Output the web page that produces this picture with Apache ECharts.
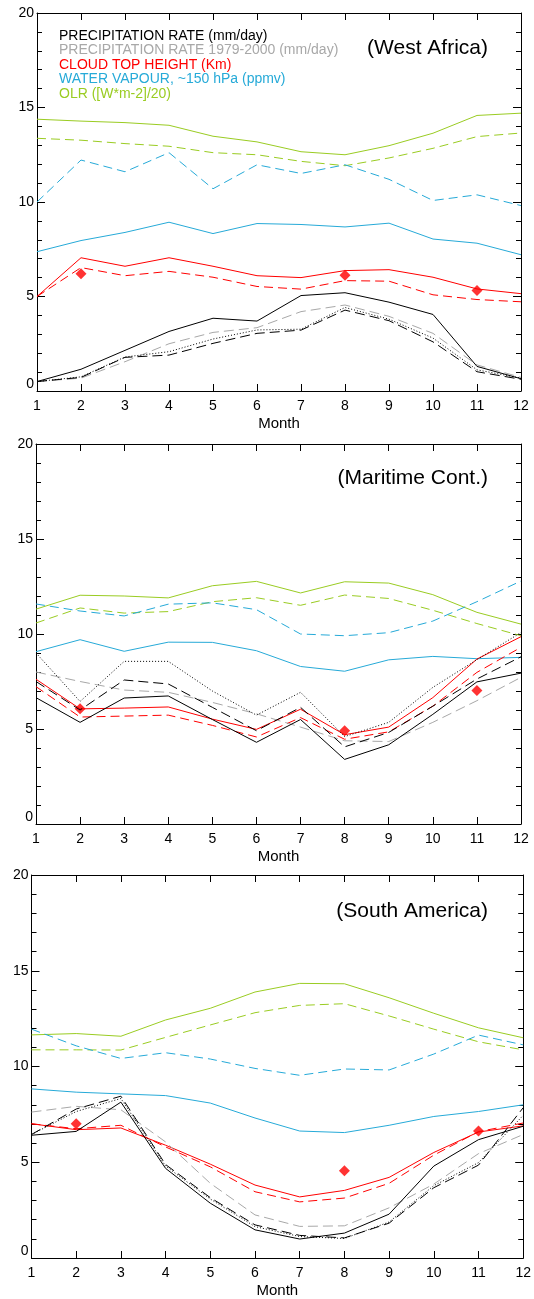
<!DOCTYPE html>
<html>
<head>
<meta charset="utf-8">
<script src="https://cdn.jsdelivr.net/npm/echarts@6/dist/echarts.min.js"></script>
<style>
html,body{margin:0;padding:0;background:#fff;}
#c{width:534px;height:1299px;}
</style>
</head>
<body>
<div id="c"></div>
<script>
// ---------- DATA ----------
var months = [1,2,3,4,5,6,7,8,9,10,11,12];
var yTicks = [0,5,10,15,20];
var regions = ["(West Africa)", "(Maritime Cont.)", "(South America)"];
var legendLabels = [
  "PRECIPITATION RATE (mm/day)",
  "PRECIPITATION RATE 1979-2000 (mm/day)",
  "CLOUD TOP HEIGHT (Km)",
  "WATER VAPOUR, ~150 hPa (ppmv)",
  "OLR ([W*m-2]/20)"
];

// West Africa
var wa_precip        = [0.5, 1.15, 2.15, 3.15, 3.85, 3.7, 5.05, 5.2, 4.7, 4.05, 1.3, 0.65];
var wa_precipDashed  = [0.5, 0.72, 1.78, 1.9, 2.52, 3.05, 3.22, 4.28, 3.72, 2.6, 1.02, 0.62];
var wa_precipDotted  = [0.5, 0.75, 1.8, 2.08, 2.75, 3.23, 3.27, 4.42, 3.8, 2.8, 1.12, 0.68];
var wa_precipClim    = [0.5, 0.68, 1.55, 2.5, 3.1, 3.35, 4.2, 4.55, 3.95, 3.05, 1.38, 0.72];
var wa_cth           = [5.0, 7.05, 6.6, 7.05, 6.6, 6.1, 6.0, 6.37, 6.42, 6.02, 5.4, 5.15];
var wa_cthDashed     = [5.0, 6.53, 6.1, 6.33, 6.02, 5.53, 5.39, 5.84, 5.81, 5.09, 4.84, 4.72];
var wa_cthObsMonths  = [2, 8, 11];
var wa_cthObs        = [6.2, 6.12, 5.32];
var wa_wv            = [7.37, 7.96, 8.39, 8.93, 8.33, 8.86, 8.81, 8.68, 8.88, 8.04, 7.82, 7.21];
var wa_wvDashed      = [10.0, 12.22, 11.6, 12.61, 10.7, 11.97, 11.51, 11.97, 11.2, 10.08, 10.38, 9.81];
var wa_olr           = [14.38, 14.28, 14.2, 14.06, 13.48, 13.18, 12.66, 12.5, 12.98, 13.64, 14.58, 14.7];
var wa_olrDashed     = [13.37, 13.27, 13.09, 12.95, 12.61, 12.5, 12.15, 11.92, 12.33, 12.84, 13.46, 13.65];

// Maritime Continent
var mc_precip        = [6.65, 5.35, 6.63, 6.74, 5.5, 4.3, 5.5, 3.4, 4.17, 5.77, 7.48, 7.94];
var mc_precipDashed  = [7.5, 6.0, 7.58, 7.37, 6.14, 4.91, 6.14, 4.06, 4.82, 6.2, 7.63, 8.8];
var mc_precipDotted  = [9.0, 6.45, 8.56, 8.56, 7.0, 5.73, 6.93, 4.6, 5.35, 7.19, 8.65, 10.08];
var mc_precipClim    = [8.0, 7.5, 7.05, 6.93, 6.4, 5.8, 5.1, 4.38, 4.34, 5.35, 6.49, 7.72];
var mc_cth           = [7.62, 6.06, 6.1, 6.16, 5.52, 4.98, 6.04, 4.7, 5.1, 6.65, 8.68, 9.86];
var mc_cthDashed     = [7.23, 5.63, 5.68, 5.73, 5.19, 4.58, 5.6, 4.46, 4.85, 6.2, 7.98, 9.3];
var mc_cthObsMonths  = [2, 8, 11];
var mc_cthObs        = [6.07, 4.91, 7.02];
var mc_wv            = [9.07, 9.7, 9.09, 9.57, 9.56, 9.12, 8.29, 8.04, 8.64, 8.82, 8.7, 8.77];
var mc_wvDashed      = [11.58, 11.21, 10.95, 11.57, 11.64, 11.28, 10.0, 9.91, 10.07, 10.68, 11.7, 12.79];
var mc_olr           = [11.31, 12.04, 12.0, 11.9, 12.54, 12.77, 12.16, 12.75, 12.68, 12.07, 11.14, 10.52];
var mc_olrDashed     = [10.58, 11.37, 11.1, 11.18, 11.7, 11.91, 11.51, 12.05, 11.87, 11.25, 10.55, 9.91];

// South America
var sa_precip        = [6.41, 6.61, 8.14, 4.68, 2.86, 1.47, 0.99, 1.3, 2.29, 4.8, 6.18, 6.88];
var sa_precipDashed  = [6.45, 7.78, 8.45, 4.88, 3.15, 1.73, 1.18, 1.05, 1.82, 3.67, 4.85, 7.85];
var sa_precipDotted  = [6.45, 7.65, 8.33, 4.8, 3.08, 1.64, 1.12, 1.02, 1.88, 3.78, 4.98, 7.45];
var sa_precipClim    = [7.62, 7.92, 7.74, 6.06, 3.9, 2.25, 1.65, 1.68, 2.62, 3.86, 5.45, 6.45];
var sa_cth           = [7.01, 6.7, 6.79, 5.89, 4.9, 3.81, 3.19, 3.53, 4.21, 5.51, 6.58, 6.9];
var sa_cthDashed     = [7.01, 6.75, 6.93, 5.8, 4.76, 3.46, 2.93, 3.13, 3.9, 5.37, 6.6, 7.05];
var sa_cthObsMonths  = [2, 8, 11];
var sa_cthObs        = [7.01, 4.55, 6.63];
var sa_wv            = [8.83, 8.66, 8.57, 8.48, 8.09, 7.31, 6.63, 6.55, 6.93, 7.39, 7.65, 8.0];
var sa_wvDashed      = [11.95, 11.08, 10.42, 10.72, 10.39, 9.9, 9.54, 9.87, 9.82, 10.65, 11.64, 11.13];
var sa_olr           = [11.65, 11.72, 11.58, 12.43, 13.04, 13.89, 14.34, 14.32, 13.59, 12.78, 12.02, 11.5];
var sa_olrDashed     = [10.87, 10.87, 10.86, 11.52, 12.17, 12.81, 13.19, 13.28, 12.64, 11.95, 11.29, 10.87];

// ---------- STYLE ----------
var C_BLACK = '#000000', C_GRAY = '#a8a8a8', C_RED = '#ff0000', C_BLUE = '#26aad8', C_GREEN = '#9acc22';
var FONT = '"Liberation Sans", Arial, Helvetica, sans-serif';
var DASH = [9, 5], LONGDASH = [10, 5], DOT = [1, 2];

var panels = [
  {left: 37, right: 13, top: 13, height: 378, d: {
    p: wa_precip, pd: wa_precipDashed, pt: wa_precipDotted, pc: wa_precipClim,
    c: wa_cth, cd: wa_cthDashed, om: wa_cthObsMonths, o: wa_cthObs,
    w: wa_wv, wd: wa_wvDashed, l: wa_olr, ld: wa_olrDashed}},
  {left: 36, right: 13, top: 444, height: 380, d: {
    p: mc_precip, pd: mc_precipDashed, pt: mc_precipDotted, pc: mc_precipClim,
    c: mc_cth, cd: mc_cthDashed, om: mc_cthObsMonths, o: mc_cthObs,
    w: mc_wv, wd: mc_wvDashed, l: mc_olr, ld: mc_olrDashed}},
  {left: 31.5, right: 10.5, top: 875, height: 385, d: {
    p: sa_precip, pd: sa_precipDashed, pt: sa_precipDotted, pc: sa_precipClim,
    c: sa_cth, cd: sa_cthDashed, om: sa_cthObsMonths, o: sa_cthObs,
    w: sa_wv, wd: sa_wvDashed, l: sa_olr, ld: sa_olrDashed}}
];

var grids = [], xAxes = [], yAxes = [], series = [], graphics = [];

function pairs(xs, ys) { return xs.map(function (x, i) { return [x, ys[i]]; }); }

panels.forEach(function (p, g) {
  grids.push({left: p.left, right: p.right, top: p.top, height: p.height, containLabel: false});
  var common = {
    type: 'value', min: months[0], max: months[months.length - 1], interval: 1, gridIndex: g,
    axisLine: {show: true, onZero: false, lineStyle: {color: '#000', width: 1}},
    axisTick: {show: true, inside: true, length: 7, lineStyle: {color: '#000', width: 1}},
    splitLine: {show: false}
  };
  xAxes.push(Object.assign({}, common, {
    position: 'bottom',
    axisLabel: {show: true, color: '#000', fontSize: 14, fontFamily: FONT, margin: 8},
    name: 'Month', nameLocation: 'middle', nameGap: 25,
    nameTextStyle: {color: '#000', fontSize: 15, fontFamily: FONT}
  }));
  xAxes.push(Object.assign({}, common, {position: 'top', axisLabel: {show: false}}));
  var ycommon = {
    type: 'value', min: yTicks[0], max: yTicks[yTicks.length - 1], interval: 5, gridIndex: g,
    axisLine: {show: true, onZero: false, lineStyle: {color: '#000', width: 1}},
    axisTick: {show: true, inside: true, length: 8, lineStyle: {color: '#000', width: 1}},
    minorTick: {show: true, splitNumber: 5, length: 5, lineStyle: {color: '#000', width: 1}},
    splitLine: {show: false}, minorSplitLine: {show: false}
  };
  yAxes.push(Object.assign({}, ycommon, {
    position: 'left',
    axisLabel: {show: true, color: '#000', fontSize: 14, fontFamily: FONT, margin: 3,
                verticalAlignMinLabel: 'bottom'}
  }));
  yAxes.push(Object.assign({}, ycommon, {position: 'right', axisLabel: {show: false}}));

  var ax = 2 * g;
  function ln(data, color, dash) {
    series.push({
      type: 'line', xAxisIndex: ax, yAxisIndex: ax, data: pairs(months, data),
      symbol: 'none', showSymbol: false, silent: true, animation: false,
      lineStyle: {color: color, width: 1, type: dash}
    });
  }
  var d = p.d;
  ln(d.l, C_GREEN, 'solid');
  ln(d.ld, C_GREEN, DASH);
  ln(d.w, C_BLUE, 'solid');
  ln(d.wd, C_BLUE, DASH);
  ln(d.c, C_RED, 'solid');
  ln(d.cd, C_RED, DASH);
  ln(d.pc, C_GRAY, LONGDASH);
  ln(d.pt, C_BLACK, DOT);
  ln(d.pd, C_BLACK, LONGDASH);
  ln(d.p, C_BLACK, 'solid');
  series.push({
    type: 'scatter', xAxisIndex: ax, yAxisIndex: ax, data: pairs(d.om, d.o),
    symbol: 'diamond', symbolSize: 11, silent: true, animation: false,
    itemStyle: {color: C_RED}
  });
});

// region titles
var titleY = [50, 480, 913];
regions.forEach(function (t, i) {
  graphics.push({type: 'text', right: 534 - 488, top: titleY[i] - 12,
    style: {text: t, font: '21px ' + FONT, fill: '#000'}});
});
// legend text in first panel
var legendColors = [C_BLACK, C_GRAY, C_RED, C_BLUE, C_GREEN];
legendLabels.forEach(function (t, i) {
  graphics.push({type: 'text', left: 59, top: 29 + i * 14.5,
    style: {text: t, font: '14px ' + FONT, fill: legendColors[i]}});
});

var chart = echarts.init(document.getElementById('c'), null, {renderer: 'canvas'});
chart.setOption({
  animation: false,
  backgroundColor: '#ffffff',
  grid: grids, xAxis: xAxes, yAxis: yAxes, series: series, graphic: graphics
});
</script>
</body>
</html>
